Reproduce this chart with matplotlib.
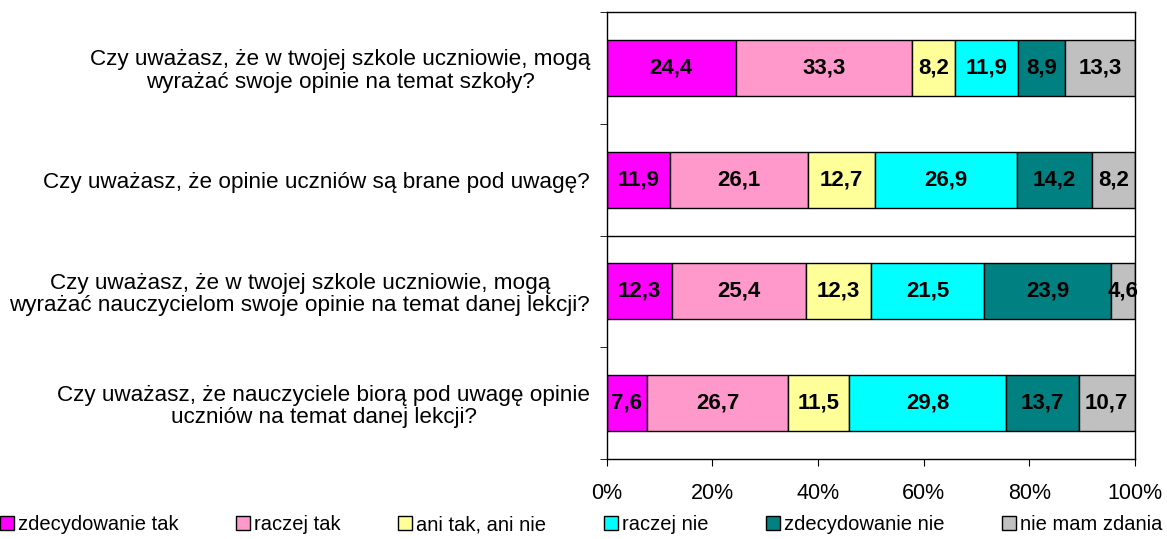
import matplotlib.pyplot as plt
import numpy as np

plt.rcParams['font.family'] = ['Liberation Sans', 'DejaVu Sans']

questions = [
    'Czy uważasz, że w twojej szkole uczniowie, mogą\nwyrażać swoje opinie na temat szkoły?',
    'Czy uważasz, że opinie uczniów są brane pod uwagę?',
    'Czy uważasz, że w twojej szkole uczniowie, mogą\nwyrażać nauczycielom swoje opinie na temat danej lekcji?',
    'Czy uważasz, że nauczyciele biorą pod uwagę opinie\nuczniów na temat danej lekcji?',
]
answers = ['zdecydowanie tak', 'raczej tak', 'ani tak, ani nie',
           'raczej nie', 'zdecydowanie nie', 'nie mam zdania']
values = [
    [24.4, 33.3, 8.2, 11.9, 8.9, 13.3],
    [11.9, 26.1, 12.7, 26.9, 14.2, 8.2],
    [12.3, 25.4, 12.3, 21.5, 23.9, 4.6],
    [7.6, 26.7, 11.5, 29.8, 13.7, 10.7],
]
colors = ['#FF00FF', '#FF99CC', '#FFFF99', '#00FFFF', '#008080', '#C0C0C0']

fig = plt.figure(figsize=(11.67, 5.39), dpi=100)
ax = fig.add_axes([0.520, 0.1484, 0.4526, 0.8293])

vals = np.array(values)
ypos = np.arange(len(questions))
left = np.zeros(len(questions))
for j, name in enumerate(answers):
    ax.barh(ypos, vals[:, j], left=left, height=0.5, color=colors[j],
            edgecolor='black', linewidth=1.0, label=name)
    for i in range(len(questions)):
        ax.text(left[i] + vals[i, j] / 2, ypos[i], f'{vals[i, j]:.1f}'.replace('.', ','),
                ha='center', va='center', fontsize=16, fontweight='bold')
    left += vals[:, j]

ax.set_xlim(0, 100)
ax.set_ylim(len(questions) - 0.5, -0.5)
ax.axhline(1.5, color='black', linewidth=1.0)

ax.set_yticks(ypos)
ax.set_yticklabels(questions, fontsize=16.2, multialignment='center',
                   linespacing=1.1)
ax.set_yticks(np.arange(-0.5, len(questions)), minor=True)
ax.tick_params(axis='y', which='major', length=0, pad=12)
ax.tick_params(axis='y', which='minor', length=5, direction='out')

ax.set_xticks(np.arange(0, 101, 20))
ax.set_xticklabels([f'{v}%' for v in range(0, 101, 20)], fontsize=15.5)
ax.tick_params(axis='x', length=5, direction='out', pad=12)

for s in ax.spines.values():
    s.set_linewidth(1.0)

fig.legend(loc='lower center', bbox_to_anchor=(0.498, -0.025), ncol=6, frameon=False,
           fontsize=14.5, handlelength=0.7, handleheight=0.7, handletextpad=0.2,
           columnspacing=2.85)

fig.savefig('out.png', dpi=100)
